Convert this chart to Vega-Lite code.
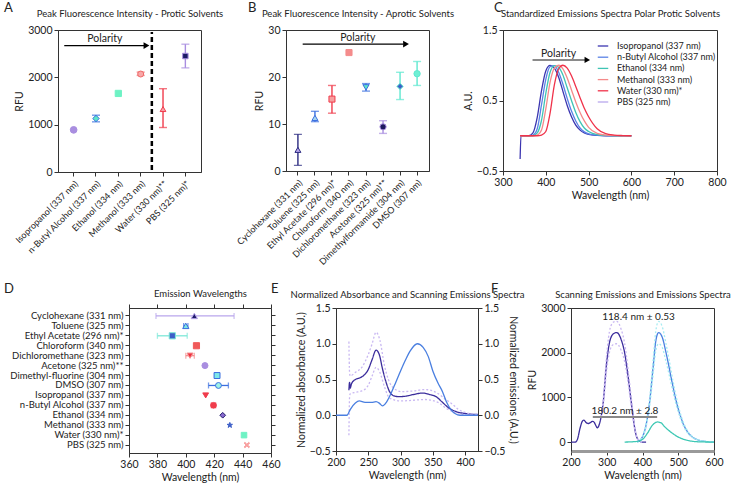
{
"$schema":"https://vega.github.io/schema/vega-lite/v6.json",
"background":"white",
"padding":{"left":3,"top":1,"right":5,"bottom":3},
"config":{
 "font":"Lato",
 "view":{"stroke":"#333","strokeWidth":1},
 "axis":{"grid":false,"labelFlush":false,"labelFontSize":10.5,"titleFontSize":10.5,"titleFontWeight":"normal","labelColor":"#222","titleColor":"#222","domainColor":"#333","tickColor":"#333","tickSize":4,"labelPadding":2,"titlePadding":3},
 "title":{"fontSize":13,"fontWeight":"normal","color":"#222","anchor":"start","frame":"group","offset":-7},
 "line":{"interpolate":"monotone","strokeWidth":1.3}
},
"datasets":{
 "A":[
  {"solvent":"Isopropanol (337 nm)","rfu":890,"lo":null,"hi":null},
  {"solvent":"n-Butyl Alcohol (337 nm)","rfu":1130,"lo":1060,"hi":1200},
  {"solvent":"Ethanol (334 nm)","rfu":1660,"lo":null,"hi":null},
  {"solvent":"Methanol (333 nm)","rfu":2070,"lo":2040,"hi":2110},
  {"solvent":"Water (330 nm)**","rfu":1330,"lo":940,"hi":1760},
  {"solvent":"PBS (325 nm)*","rfu":2450,"lo":2200,"hi":2700}
 ],
 "B":[
  {"solvent":"Cyclohexane (331 nm)","rfu":4.5,"lo":1.2,"hi":7.8},
  {"solvent":"Toluene (325 nm)","rfu":11.3,"lo":10.5,"hi":12.7},
  {"solvent":"Ethyl Acetate (296 nm)*","rfu":15.3,"lo":12.3,"hi":18.2},
  {"solvent":"Chloroform (340 nm)","rfu":25.2,"lo":null,"hi":null},
  {"solvent":"Dichloromethane (323 nm)","rfu":17.8,"lo":17.0,"hi":18.6},
  {"solvent":"Acetone (325 nm)**","rfu":9.4,"lo":8.0,"hi":10.7},
  {"solvent":"Dimethylformamide (304 nm)","rfu":18.0,"lo":15.2,"hi":21.0},
  {"solvent":"DMSO (307 nm)","rfu":20.7,"lo":18.2,"hi":23.3}
 ],
 "C":[
  {"w":340,"Isopropanol (337 nm)":-0.33,"n-Butyl Alcohol (337 nm)":0,"Ethanol (334 nm)":0,"Methanol (333 nm)":0,"Water (330 nm)*":0},
  {"w":342,"Isopropanol (337 nm)":0,"n-Butyl Alcohol (337 nm)":0,"Ethanol (334 nm)":0,"Methanol (333 nm)":0,"Water (330 nm)*":0},
  {"w":360,"Isopropanol (337 nm)":0,"n-Butyl Alcohol (337 nm)":0,"Ethanol (334 nm)":0,"Methanol (333 nm)":0,"Water (330 nm)*":0},
  {"w":370,"Isopropanol (337 nm)":0.04,"n-Butyl Alcohol (337 nm)":0.01,"Ethanol (334 nm)":0,"Methanol (333 nm)":0,"Water (330 nm)*":0},
  {"w":380,"Isopropanol (337 nm)":0.26,"n-Butyl Alcohol (337 nm)":0.1,"Ethanol (334 nm)":0.04,"Methanol (333 nm)":0.01,"Water (330 nm)*":0},
  {"w":390,"Isopropanol (337 nm)":0.64,"n-Butyl Alcohol (337 nm)":0.44,"Ethanol (334 nm)":0.22,"Methanol (333 nm)":0.08,"Water (330 nm)*":0.01},
  {"w":400,"Isopropanol (337 nm)":0.92,"n-Butyl Alcohol (337 nm)":0.8,"Ethanol (334 nm)":0.6,"Methanol (333 nm)":0.38,"Water (330 nm)*":0.06},
  {"w":410,"Isopropanol (337 nm)":0.998,"n-Butyl Alcohol (337 nm)":0.98,"Ethanol (334 nm)":0.9,"Methanol (333 nm)":0.76,"Water (330 nm)*":0.32},
  {"w":420,"Isopropanol (337 nm)":0.96,"n-Butyl Alcohol (337 nm)":0.995,"Ethanol (334 nm)":0.995,"Methanol (333 nm)":0.96,"Water (330 nm)*":0.72},
  {"w":430,"Isopropanol (337 nm)":0.83,"n-Butyl Alcohol (337 nm)":0.9,"Ethanol (334 nm)":0.97,"Methanol (333 nm)":1.0,"Water (330 nm)*":0.95},
  {"w":440,"Isopropanol (337 nm)":0.63,"n-Butyl Alcohol (337 nm)":0.73,"Ethanol (334 nm)":0.86,"Methanol (333 nm)":0.95,"Water (330 nm)*":1.0},
  {"w":450,"Isopropanol (337 nm)":0.43,"n-Butyl Alcohol (337 nm)":0.53,"Ethanol (334 nm)":0.68,"Methanol (333 nm)":0.82,"Water (330 nm)*":0.96},
  {"w":460,"Isopropanol (337 nm)":0.27,"n-Butyl Alcohol (337 nm)":0.35,"Ethanol (334 nm)":0.5,"Methanol (333 nm)":0.65,"Water (330 nm)*":0.85},
  {"w":470,"Isopropanol (337 nm)":0.15,"n-Butyl Alcohol (337 nm)":0.21,"Ethanol (334 nm)":0.33,"Methanol (333 nm)":0.48,"Water (330 nm)*":0.7},
  {"w":480,"Isopropanol (337 nm)":0.08,"n-Butyl Alcohol (337 nm)":0.11,"Ethanol (334 nm)":0.2,"Methanol (333 nm)":0.33,"Water (330 nm)*":0.54},
  {"w":490,"Isopropanol (337 nm)":0.04,"n-Butyl Alcohol (337 nm)":0.055,"Ethanol (334 nm)":0.11,"Methanol (333 nm)":0.21,"Water (330 nm)*":0.39},
  {"w":500,"Isopropanol (337 nm)":0.02,"n-Butyl Alcohol (337 nm)":0.027,"Ethanol (334 nm)":0.06,"Methanol (333 nm)":0.12,"Water (330 nm)*":0.27},
  {"w":520,"Isopropanol (337 nm)":0.005,"n-Butyl Alcohol (337 nm)":0.008,"Ethanol (334 nm)":0.015,"Methanol (333 nm)":0.035,"Water (330 nm)*":0.1},
  {"w":540,"Isopropanol (337 nm)":0,"n-Butyl Alcohol (337 nm)":0.002,"Ethanol (334 nm)":0.004,"Methanol (333 nm)":0.01,"Water (330 nm)*":0.03},
  {"w":560,"Isopropanol (337 nm)":0,"n-Butyl Alcohol (337 nm)":0,"Ethanol (334 nm)":0,"Methanol (333 nm)":0.002,"Water (330 nm)*":0.01},
  {"w":580,"Isopropanol (337 nm)":0,"n-Butyl Alcohol (337 nm)":0,"Ethanol (334 nm)":0,"Methanol (333 nm)":0,"Water (330 nm)*":0.003},
  {"w":600,"Isopropanol (337 nm)":0,"n-Butyl Alcohol (337 nm)":0,"Ethanol (334 nm)":0,"Methanol (333 nm)":0,"Water (330 nm)*":0}
 ],
 "D":[
  {"solvent":"Cyclohexane (331 nm)","nm":406,"lo":379,"hi":434},
  {"solvent":"Toluene (325 nm)","nm":400,"lo":398.5,"hi":401.5},
  {"solvent":"Ethyl Acetate (296 nm)*","nm":390.5,"lo":380,"hi":401},
  {"solvent":"Chloroform (340 nm)","nm":407.5,"lo":null,"hi":null},
  {"solvent":"Dichloromethane (323 nm)","nm":403,"lo":400,"hi":406},
  {"solvent":"Acetone (325 nm)**","nm":413.5,"lo":null,"hi":null},
  {"solvent":"Dimethyl-fluorine (304 nm)","nm":422,"lo":420.5,"hi":423.5},
  {"solvent":"DMSO (307 nm)","nm":423,"lo":416,"hi":430},
  {"solvent":"Isopropanol (337 nm)","nm":414,"lo":null,"hi":null},
  {"solvent":"n-Butyl Alcohol (337 nm)","nm":419.5,"lo":418,"hi":421},
  {"solvent":"Ethanol (334 nm)","nm":426,"lo":null,"hi":null},
  {"solvent":"Methanol (333 nm)","nm":431,"lo":null,"hi":null},
  {"solvent":"Water (330 nm)*","nm":441,"lo":null,"hi":null},
  {"solvent":"PBS (325 nm)","nm":443,"lo":null,"hi":null}
 ],
 "E":[
  {"s":"abs","w":220,"v":0.35},{"s":"abs","w":221,"v":0.46},{"s":"abs","w":222,"v":0.38},{"s":"abs","w":224,"v":0.44},{"s":"abs","w":230,"v":0.5},{"s":"abs","w":236,"v":0.52},{"s":"abs","w":242,"v":0.55},{"s":"abs","w":250,"v":0.64},{"s":"abs","w":256,"v":0.78},{"s":"abs","w":262,"v":0.91},{"s":"abs","w":267,"v":0.85},{"s":"abs","w":272,"v":0.65},{"s":"abs","w":278,"v":0.45},{"s":"abs","w":283,"v":0.33},{"s":"abs","w":290,"v":0.27},{"s":"abs","w":298,"v":0.26},{"s":"abs","w":310,"v":0.27},{"s":"abs","w":320,"v":0.29},{"s":"abs","w":334,"v":0.31},{"s":"abs","w":345,"v":0.29},{"s":"abs","w":355,"v":0.26},{"s":"abs","w":365,"v":0.18},{"s":"abs","w":375,"v":0.1},{"s":"abs","w":381,"v":0.07},{"s":"abs","w":390,"v":0.04},{"s":"abs","w":400,"v":0.025},{"s":"abs","w":410,"v":0.015},{"s":"abs","w":420,"v":0.01},
  {"s":"abs_hi","w":220,"v":1.03},{"s":"abs_hi","w":221,"v":0.6},{"s":"abs_hi","w":222,"v":0.55},{"s":"abs_hi","w":230,"v":0.6},{"s":"abs_hi","w":240,"v":0.67},{"s":"abs_hi","w":250,"v":0.85},{"s":"abs_hi","w":256,"v":1.0},{"s":"abs_hi","w":262,"v":1.16},{"s":"abs_hi","w":268,"v":1.05},{"s":"abs_hi","w":275,"v":0.7},{"s":"abs_hi","w":287,"v":0.4},{"s":"abs_hi","w":302,"v":0.33},{"s":"abs_hi","w":320,"v":0.34},{"s":"abs_hi","w":338,"v":0.36},{"s":"abs_hi","w":355,"v":0.32},{"s":"abs_hi","w":370,"v":0.22},{"s":"abs_hi","w":381,"v":0.15},{"s":"abs_hi","w":390,"v":0.08},{"s":"abs_hi","w":400,"v":0.04},{"s":"abs_hi","w":410,"v":0.02},{"s":"abs_hi","w":420,"v":0.01},
  {"s":"abs_lo","w":220,"v":-0.28},{"s":"abs_lo","w":221,"v":0.25},{"s":"abs_lo","w":222,"v":0.3},{"s":"abs_lo","w":230,"v":0.32},{"s":"abs_lo","w":240,"v":0.34},{"s":"abs_lo","w":250,"v":0.42},{"s":"abs_lo","w":256,"v":0.55},{"s":"abs_lo","w":262,"v":0.67},{"s":"abs_lo","w":268,"v":0.6},{"s":"abs_lo","w":275,"v":0.4},{"s":"abs_lo","w":283,"v":0.24},{"s":"abs_lo","w":300,"v":0.2},{"s":"abs_lo","w":320,"v":0.21},{"s":"abs_lo","w":338,"v":0.22},{"s":"abs_lo","w":358,"v":0.18},{"s":"abs_lo","w":370,"v":0.1},{"s":"abs_lo","w":381,"v":0.05},{"s":"abs_lo","w":390,"v":0.02},{"s":"abs_lo","w":400,"v":0.01},{"s":"abs_lo","w":420,"v":0}
 ],
 "Eem":[
  {"w":200,"v":0},{"w":217,"v":0},{"w":222,"v":0.08},{"w":230,"v":0.17},{"w":236,"v":0.2},{"w":245,"v":0.18},{"w":255,"v":0.18},{"w":262,"v":0.19},{"w":267,"v":0.17},{"w":272,"v":0.13},{"w":278,"v":0.18},{"w":285,"v":0.3},{"w":293,"v":0.47},{"w":300,"v":0.62},{"w":308,"v":0.78},{"w":315,"v":0.9},{"w":326,"v":1.0},{"w":335,"v":0.95},{"w":343,"v":0.82},{"w":350,"v":0.62},{"w":358,"v":0.45},{"w":365,"v":0.33},{"w":371,"v":0.19},{"w":378,"v":0.08},{"w":385,"v":0.02},{"w":392,"v":0},{"w":420,"v":0}
 ],
 "F":[
  {"s":"scan","w":200,"v":0},{"s":"scan","w":212,"v":0},{"s":"scan","w":218,"v":60},{"s":"scan","w":225,"v":300},{"s":"scan","w":232,"v":470},{"s":"scan","w":236,"v":490},{"s":"scan","w":242,"v":440},{"s":"scan","w":248,"v":415},{"s":"scan","w":255,"v":440},{"s":"scan","w":260,"v":465},{"s":"scan","w":265,"v":440},{"s":"scan","w":270,"v":360},{"s":"scan","w":274,"v":320},{"s":"scan","w":280,"v":420},{"s":"scan","w":285,"v":600},{"s":"scan","w":290,"v":880},{"s":"scan","w":300,"v":1800},{"s":"scan","w":310,"v":2300},{"s":"scan","w":320,"v":2430},{"s":"scan","w":328,"v":2450},{"s":"scan","w":340,"v":2300},{"s":"scan","w":350,"v":2000},{"s":"scan","w":360,"v":1450},{"s":"scan","w":370,"v":800},{"s":"scan","w":380,"v":230},{"s":"scan","w":390,"v":30},{"s":"scan","w":400,"v":0},{"s":"scan","w":410,"v":0},
  {"s":"scan_hi","w":285,"v":640},{"s":"scan_hi","w":290,"v":950},{"s":"scan_hi","w":300,"v":1980},{"s":"scan_hi","w":310,"v":2560},{"s":"scan_hi","w":320,"v":2690},{"s":"scan_hi","w":328,"v":2700},{"s":"scan_hi","w":340,"v":2530},{"s":"scan_hi","w":350,"v":2210},{"s":"scan_hi","w":360,"v":1600},{"s":"scan_hi","w":370,"v":890},{"s":"scan_hi","w":380,"v":260},{"s":"scan_hi","w":390,"v":35},{"s":"scan_hi","w":400,"v":0},
  {"s":"scan_lo","w":285,"v":560},{"s":"scan_lo","w":290,"v":810},{"s":"scan_lo","w":300,"v":1620},{"s":"scan_lo","w":310,"v":2080},{"s":"scan_lo","w":320,"v":2190},{"s":"scan_lo","w":328,"v":2200},{"s":"scan_lo","w":340,"v":2060},{"s":"scan_lo","w":350,"v":1800},{"s":"scan_lo","w":360,"v":1300},{"s":"scan_lo","w":370,"v":720},{"s":"scan_lo","w":380,"v":210},{"s":"scan_lo","w":390,"v":25},{"s":"scan_lo","w":400,"v":0},
  {"s":"em","w":385,"v":0},{"s":"em","w":400,"v":120},{"s":"em","w":410,"v":380},{"s":"em","w":420,"v":900},{"s":"em","w":430,"v":1700},{"s":"em","w":437,"v":2250},{"s":"em","w":445,"v":2450},{"s":"em","w":455,"v":2350},{"s":"em","w":465,"v":2030},{"s":"em","w":475,"v":1650},{"s":"em","w":485,"v":1250},{"s":"em","w":495,"v":900},{"s":"em","w":505,"v":610},{"s":"em","w":515,"v":390},{"s":"em","w":525,"v":240},{"s":"em","w":540,"v":110},{"s":"em","w":555,"v":50},{"s":"em","w":570,"v":20},{"s":"em","w":585,"v":8},{"s":"em","w":600,"v":3},
  {"s":"em_hi","w":385,"v":0},{"s":"em_hi","w":400,"v":130},{"s":"em_hi","w":410,"v":420},{"s":"em_hi","w":420,"v":990},{"s":"em_hi","w":430,"v":1870},{"s":"em_hi","w":437,"v":2470},{"s":"em_hi","w":445,"v":2700},{"s":"em_hi","w":455,"v":2590},{"s":"em_hi","w":465,"v":2230},{"s":"em_hi","w":475,"v":1820},{"s":"em_hi","w":485,"v":1380},{"s":"em_hi","w":495,"v":990},{"s":"em_hi","w":505,"v":670},{"s":"em_hi","w":515,"v":430},{"s":"em_hi","w":525,"v":265},{"s":"em_hi","w":540,"v":120},{"s":"em_hi","w":555,"v":55},{"s":"em_hi","w":570,"v":22},{"s":"em_hi","w":600,"v":3},
  {"s":"em_lo","w":385,"v":0},{"s":"em_lo","w":400,"v":110},{"s":"em_lo","w":410,"v":340},{"s":"em_lo","w":420,"v":810},{"s":"em_lo","w":430,"v":1530},{"s":"em_lo","w":437,"v":2030},{"s":"em_lo","w":445,"v":2200},{"s":"em_lo","w":455,"v":2120},{"s":"em_lo","w":465,"v":1830},{"s":"em_lo","w":475,"v":1490},{"s":"em_lo","w":485,"v":1130},{"s":"em_lo","w":495,"v":810},{"s":"em_lo","w":505,"v":550},{"s":"em_lo","w":515,"v":350},{"s":"em_lo","w":525,"v":215},{"s":"em_lo","w":540,"v":100},{"s":"em_lo","w":555,"v":45},{"s":"em_lo","w":570,"v":18},{"s":"em_lo","w":600,"v":3},
  {"s":"em2","w":350,"v":0},{"s":"em2","w":385,"v":15},{"s":"em2","w":400,"v":60},{"s":"em2","w":414,"v":200},{"s":"em2","w":428,"v":380},{"s":"em2","w":442,"v":450},{"s":"em2","w":452,"v":430},{"s":"em2","w":461,"v":350},{"s":"em2","w":472,"v":270},{"s":"em2","w":484,"v":195},{"s":"em2","w":496,"v":130},{"s":"em2","w":508,"v":83},{"s":"em2","w":525,"v":40},{"s":"em2","w":545,"v":12},{"s":"em2","w":570,"v":3},{"s":"em2","w":600,"v":0}
 ]
},
"spacing":15,
"bounds":"full",
"resolve":{"scale":{"color":"independent","fill":"independent","stroke":"independent","shape":"independent","size":"independent","strokeDash":"independent"},"legend":{"color":"independent"}},
"vconcat":[
 {"bounds":"flush","spacing":85,
  "resolve":{"scale":{"color":"independent","fill":"independent","stroke":"independent","shape":"independent","size":"independent","strokeDash":"independent"},"legend":{"color":"independent"}},
  "hconcat":[
  {
   "width":143,"height":142,
   "title":{"text":"A","dx":-54},
   "data":{"name":"A"},
   "resolve":{"axis":{"x":"independent"}},
   "layer":[
    {"data":{"values":[{"solvent":"Methanol (333 nm)"}]},"mark":{"type":"rule","color":"#000","strokeWidth":2.5,"strokeDash":[5,3]},
     "encoding":{"x":{"field":"solvent","type":"nominal","sort":null,"title":"Peak Fluorescence Intensity - Protic Solvents","bandPosition":1,"scale":{"domain":["Isopropanol (337 nm)","n-Butyl Alcohol (337 nm)","Ethanol (334 nm)","Methanol (333 nm)","Water (330 nm)**","PBS (325 nm)*"],"paddingInner":0,"paddingOuter":0.2},"axis":{"orient":"top","labels":false,"ticks":false,"domain":false,"titleFontSize":9.5,"titlePadding":12}},
      "y":{"datum":40,"type":"quantitative","title":"RFU","scale":{"domain":[0,3000],"nice":false},"axis":{"values":[0,1000,2000,3000],"format":"d"}},"y2":{"datum":2960}}},
    {"data":{"values":[{"solvent":"Isopropanol (337 nm)","to":"Methanol (333 nm)"}]},"mark":{"type":"rule","color":"#000","strokeWidth":1.2},
     "encoding":{"x":{"field":"solvent","type":"nominal","sort":null,"axis":null,"bandPosition":0.08},"x2":{"field":"to","bandPosition":0.66},
      "y":{"datum":2670,"type":"quantitative","title":"RFU"}}},
    {"data":{"values":[{"solvent":"Methanol (333 nm)"}]},"mark":{"type":"point","shape":"triangle-right","filled":true,"color":"#000","size":45,"opacity":1},
     "encoding":{"x":{"field":"solvent","type":"nominal","sort":null,"axis":null,"bandPosition":0.76},"y":{"datum":2670,"type":"quantitative","title":"RFU"}}},
    {"data":{"values":[{"solvent":"n-Butyl Alcohol (337 nm)","label":"Polarity"}]},"mark":{"type":"text","fontSize":10.5,"color":"#222"},
     "encoding":{"x":{"field":"solvent","type":"nominal","sort":null,"axis":null,"bandPosition":0.9},"y":{"datum":2810,"type":"quantitative","title":"RFU"},"text":{"field":"label"}}},
    {"mark":{"type":"rule","strokeWidth":1.4},
     "encoding":{"x":{"field":"solvent","type":"nominal","sort":null,"axis":null},"y":{"field":"lo","type":"quantitative","title":"RFU"},"y2":{"field":"hi"},
      "stroke":{"field":"solvent","type":"nominal","legend":null,"scale":{"domain":["Isopropanol (337 nm)","n-Butyl Alcohol (337 nm)","Ethanol (334 nm)","Methanol (333 nm)","Water (330 nm)**","PBS (325 nm)*"],"range":["#a98ee0","#3b6fe0","#6ef2c4","#f06a6a","#f03c4c","#a98ee0"]}}}},
    {"transform":[{"fold":["lo","hi"],"as":["k","v"]}],"mark":{"type":"tick","size":8,"thickness":1.4},
     "encoding":{"x":{"field":"solvent","type":"nominal","sort":null,"axis":null},"y":{"field":"v","type":"quantitative","title":"RFU"},
      "fill":{"field":"solvent","type":"nominal","legend":null,"scale":{"domain":["Isopropanol (337 nm)","n-Butyl Alcohol (337 nm)","Ethanol (334 nm)","Methanol (333 nm)","Water (330 nm)**","PBS (325 nm)*"],"range":["#a98ee0","#3b6fe0","#6ef2c4","#f06a6a","#f03c4c","#a98ee0"]}}}},
    {"mark":{"type":"point","filled":true,"opacity":1,"strokeWidth":1},
     "encoding":{"x":{"field":"solvent","type":"nominal","sort":null,"title":null,"axis":{"labelAngle":-45,"labelFontSize":9,"labelPadding":3}},"y":{"field":"rfu","type":"quantitative","title":"RFU"},
      "color":{"field":"solvent","type":"nominal","legend":null,"scale":{"domain":["Isopropanol (337 nm)","n-Butyl Alcohol (337 nm)","Ethanol (334 nm)","Methanol (333 nm)","Water (330 nm)**","PBS (325 nm)*"],"range":["#a98ee0","#5ee8c8","#6ef2c4","#f8a8a8","#f8a0a8","#1b1a66"]}},
      "stroke":{"field":"solvent","type":"nominal","legend":null},
      "shape":{"field":"solvent","type":"nominal","legend":null,"scale":{"domain":["Isopropanol (337 nm)","n-Butyl Alcohol (337 nm)","Ethanol (334 nm)","Methanol (333 nm)","Water (330 nm)**","PBS (325 nm)*"],"range":["circle","diamond","square","circle","triangle-up","square"]}},
      "size":{"field":"solvent","type":"nominal","legend":null,"scale":{"domain":["Isopropanol (337 nm)","n-Butyl Alcohol (337 nm)","Ethanol (334 nm)","Methanol (333 nm)","Water (330 nm)**","PBS (325 nm)*"],"range":[45,30,50,10,20,60]}}}}
   ]
  },
  {"bounds":"flush","spacing":74,
   "resolve":{"scale":{"color":"independent","fill":"independent","stroke":"independent","shape":"independent","size":"independent","strokeDash":"independent"},"legend":{"color":"independent"}},
   "hconcat":[
   {
    "width":143,"height":141,
    "title":{"text":"B","dx":-38},
    "data":{"name":"B"},
    "resolve":{"axis":{"x":"independent"}},
    "layer":[
     {"data":{"values":[{"solvent":"Cyclohexane (331 nm)","to":"Dimethylformamide (304 nm)"}]},"mark":{"type":"rule","color":"#000","strokeWidth":1.2},
      "encoding":{"x":{"field":"solvent","type":"nominal","sort":null,"title":"Peak Fluorescence Intensity - Aprotic Solvents","bandPosition":0.78,"scale":{"domain":["Cyclohexane (331 nm)","Toluene (325 nm)","Ethyl Acetate (296 nm)*","Chloroform (340 nm)","Dichloromethane (323 nm)","Acetone (325 nm)**","Dimethylformamide (304 nm)","DMSO (307 nm)"],"paddingInner":0,"paddingOuter":0.2},"axis":{"orient":"top","labels":false,"ticks":false,"domain":false,"titleFontSize":9.5,"titlePadding":12}},
       "x2":{"field":"to","bandPosition":0.7},
       "y":{"datum":27,"type":"quantitative","title":"RFU","scale":{"domain":[0,30],"nice":false},"axis":{"values":[0,10,20,30]}}}},
     {"data":{"values":[{"solvent":"Dimethylformamide (304 nm)"}]},"mark":{"type":"point","shape":"triangle-right","filled":true,"color":"#000","size":45,"opacity":1},
      "encoding":{"x":{"field":"solvent","type":"nominal","sort":null,"axis":null,"bandPosition":0.85},"y":{"datum":27,"type":"quantitative","title":"RFU"}}},
     {"data":{"values":[{"solvent":"Dichloromethane (323 nm)","label":"Polarity"}]},"mark":{"type":"text","fontSize":10.5,"color":"#222"},
      "encoding":{"x":{"field":"solvent","type":"nominal","sort":null,"axis":null,"bandPosition":0.02},"y":{"datum":28.3,"type":"quantitative","title":"RFU"},"text":{"field":"label"}}},
     {"mark":{"type":"rule","strokeWidth":1.4},
      "encoding":{"x":{"field":"solvent","type":"nominal","sort":null,"axis":null},"y":{"field":"lo","type":"quantitative","title":"RFU"},"y2":{"field":"hi"},
       "stroke":{"field":"solvent","type":"nominal","legend":null,"scale":{"domain":["Cyclohexane (331 nm)","Toluene (325 nm)","Ethyl Acetate (296 nm)*","Chloroform (340 nm)","Dichloromethane (323 nm)","Acetone (325 nm)**","Dimethylformamide (304 nm)","DMSO (307 nm)"],"range":["#2a2a80","#3b6fe0","#f03c4c","#f48c8c","#3b6fe0","#a98ee0","#5ee8d0","#5ee8d0"]}}}},
     {"transform":[{"fold":["lo","hi"],"as":["k","v"]}],"mark":{"type":"tick","size":8,"thickness":1.4},
      "encoding":{"x":{"field":"solvent","type":"nominal","sort":null,"axis":null},"y":{"field":"v","type":"quantitative","title":"RFU"},
       "fill":{"field":"solvent","type":"nominal","legend":null,"scale":{"domain":["Cyclohexane (331 nm)","Toluene (325 nm)","Ethyl Acetate (296 nm)*","Chloroform (340 nm)","Dichloromethane (323 nm)","Acetone (325 nm)**","Dimethylformamide (304 nm)","DMSO (307 nm)"],"range":["#2a2a80","#3b6fe0","#f03c4c","#f48c8c","#3b6fe0","#a98ee0","#5ee8d0","#5ee8d0"]}}}},
     {"mark":{"type":"point","filled":true,"opacity":1,"strokeWidth":1},
      "encoding":{"x":{"field":"solvent","type":"nominal","sort":null,"title":null,"axis":{"labelAngle":-45,"labelFontSize":9,"labelPadding":3}},"y":{"field":"rfu","type":"quantitative","title":"RFU"},
       "color":{"field":"solvent","type":"nominal","legend":null,"scale":{"domain":["Cyclohexane (331 nm)","Toluene (325 nm)","Ethyl Acetate (296 nm)*","Chloroform (340 nm)","Dichloromethane (323 nm)","Acetone (325 nm)**","Dimethylformamide (304 nm)","DMSO (307 nm)"],"range":["#b9a6ec","#a8d8f0","#f6a0a0","#f48c8c","#5ee8c8","#1e1a5e","#3d5fc8","#6ef0d4"]}},
       "stroke":{"field":"solvent","type":"nominal","legend":null},
       "shape":{"field":"solvent","type":"nominal","legend":null,"scale":{"domain":["Cyclohexane (331 nm)","Toluene (325 nm)","Ethyl Acetate (296 nm)*","Chloroform (340 nm)","Dichloromethane (323 nm)","Acetone (325 nm)**","Dimethylformamide (304 nm)","DMSO (307 nm)"],"range":["triangle-up","triangle-up","square","square","triangle-down","circle","diamond","circle"]}},
       "size":{"field":"solvent","type":"nominal","legend":null,"scale":{"domain":["Cyclohexane (331 nm)","Toluene (325 nm)","Ethyl Acetate (296 nm)*","Chloroform (340 nm)","Dichloromethane (323 nm)","Acetone (325 nm)**","Dimethylformamide (304 nm)","DMSO (307 nm)"],"range":[35,40,70,50,40,50,25,60]}}}}
    ]
   },
   {
    "width":214,"height":141,
    "title":{"text":"C","dx":-9},
    "resolve":{"axis":{"x":"independent"}},
    "layer":[
     {"mark":{"type":"rule","color":"#000","strokeWidth":1.2,"strokeDash":[2,3]},
      "encoding":{"y":{"datum":0,"type":"quantitative","title":"A.U.","scale":{"domain":[-0.5,1.5],"nice":false},"axis":{"values":[-0.5,0,0.5,1,1.5],"format":".1f"}}}},
     {"data":{"name":"C"},"transform":[{"fold":["Isopropanol (337 nm)","n-Butyl Alcohol (337 nm)","Ethanol (334 nm)","Methanol (333 nm)","Water (330 nm)*"],"as":["s","v"]}],
      "mark":{"type":"line","strokeWidth":1.3},
      "encoding":{"x":{"field":"w","type":"quantitative","title":"Wavelength (nm)","scale":{"domain":[300,800],"nice":false},"axis":{"values":[300,400,500,600,700,800]}},
       "y":{"field":"v","type":"quantitative","title":"A.U."},
       "color":{"field":"s","type":"nominal","scale":{"domain":["Isopropanol (337 nm)","n-Butyl Alcohol (337 nm)","Ethanol (334 nm)","Methanol (333 nm)","Water (330 nm)*","PBS (325 nm)"],"range":["#3b35b0","#5a82e6","#3fc4b4","#f48a8a","#f0324a","#b8a8ec"]},
        "legend":{"title":null,"orient":"none","legendX":94,"legendY":10,"symbolType":"stroke","symbolSize":110,"symbolStrokeWidth":2,"labelFontSize":9,"rowPadding":0.2,"labelOffset":8,"labelColor":"#222"}}}},
     {"data":{"values":[{"a":369,"b":494,"y":1.075}]},"mark":{"type":"rule","color":"#8a8a8a","strokeWidth":2},
      "encoding":{"x":{"field":"a","type":"quantitative","title":"Standardized Emissions Spectra Polar Protic Solvents","axis":{"orient":"top","labels":false,"ticks":false,"domain":false,"titleFontSize":9.5,"titlePadding":12}},"x2":{"field":"b"},"y":{"field":"y","type":"quantitative","title":"A.U."}}},
     {"data":{"values":[{"a":497,"y":1.075}]},"mark":{"type":"point","shape":"triangle-right","filled":true,"color":"#000","size":40,"opacity":1},
      "encoding":{"x":{"field":"a","type":"quantitative","axis":null},"y":{"field":"y","type":"quantitative","title":"A.U."}}},
     {"data":{"values":[{"a":430,"y":1.16,"label":"Polarity"}]},"mark":{"type":"text","fontSize":10.5,"color":"#222"},
      "encoding":{"x":{"field":"a","type":"quantitative","axis":null},"y":{"field":"y","type":"quantitative","title":"A.U."},"text":{"field":"label"}}}
    ]
   }
  ]}
 ]},
 {"bounds":"flush","spacing":70,
  "resolve":{"scale":{"color":"independent","fill":"independent","stroke":"independent","shape":"independent","size":"independent","strokeDash":"independent"},"legend":{"color":"independent"}},
  "hconcat":[
  {"width":1,"height":1,"view":{"stroke":null},"data":{"values":[{"k":0}]},"mark":{"type":"text","text":""}},
  {"bounds":"flush","spacing":65,
   "resolve":{"scale":{"color":"independent","fill":"independent","stroke":"independent","shape":"independent","size":"independent","strokeDash":"independent"},"legend":{"color":"independent"}},
   "hconcat":[
   {
    "width":142,"height":145,
    "title":{"text":"D","dx":-125},
    "data":{"name":"D"},
    "resolve":{"axis":{"x":"independent","y":"independent"}},
    "layer":[
     {"mark":{"type":"rule","strokeWidth":1.3},
      "encoding":{"y":{"field":"solvent","type":"nominal","sort":null,"title":null,"scale":{"domain":["Cyclohexane (331 nm)","Toluene (325 nm)","Ethyl Acetate (296 nm)*","Chloroform (340 nm)","Dichloromethane (323 nm)","Acetone (325 nm)**","Dimethyl-fluorine (304 nm)","DMSO (307 nm)","Isopropanol (337 nm)","n-Butyl Alcohol (337 nm)","Ethanol (334 nm)","Methanol (333 nm)","Water (330 nm)*","PBS (325 nm)"],"paddingInner":0,"paddingOuter":0.3},"axis":{"orient":"right","labels":false,"domain":false,"title":null}},
       "x":{"field":"lo","type":"quantitative","title":"Emission Wavelengths","scale":{"domain":[360,460],"nice":false},"axis":{"orient":"top","labels":false,"domain":false,"values":[360,380,400,420,440,460],"titleFontSize":9.5,"titlePadding":5}},"x2":{"field":"hi"},
       "stroke":{"field":"solvent","type":"nominal","legend":null,"scale":{"domain":["Cyclohexane (331 nm)","Toluene (325 nm)","Ethyl Acetate (296 nm)*","Chloroform (340 nm)","Dichloromethane (323 nm)","Acetone (325 nm)**","Dimethyl-fluorine (304 nm)","DMSO (307 nm)","Isopropanol (337 nm)","n-Butyl Alcohol (337 nm)","Ethanol (334 nm)","Methanol (333 nm)","Water (330 nm)*","PBS (325 nm)"],"range":["#b9a6ec","#3b6fe0","#7ee8d8","#f05a5a","#f49090","#a98ee0","#3b6fe0","#3b6fe0","#f03c4c","#f03c4c","#1e1a6a","#3d5fc8","#6ef2c4","#f8a0a0"]}}}},
     {"transform":[{"fold":["lo","hi"],"as":["k","v"]}],"mark":{"type":"tick","size":6,"thickness":1.3},
      "encoding":{"y":{"field":"solvent","type":"nominal","sort":null,"title":null,"axis":{"labelFontSize":9.5}},
       "x":{"field":"v","type":"quantitative","title":"Wavelength (nm)","axis":{"values":[360,380,400,420,440,460]}},
       "fill":{"field":"solvent","type":"nominal","legend":null,"scale":{"domain":["Cyclohexane (331 nm)","Toluene (325 nm)","Ethyl Acetate (296 nm)*","Chloroform (340 nm)","Dichloromethane (323 nm)","Acetone (325 nm)**","Dimethyl-fluorine (304 nm)","DMSO (307 nm)","Isopropanol (337 nm)","n-Butyl Alcohol (337 nm)","Ethanol (334 nm)","Methanol (333 nm)","Water (330 nm)*","PBS (325 nm)"],"range":["#b9a6ec","#3b6fe0","#7ee8d8","#f05a5a","#f49090","#a98ee0","#3b6fe0","#3b6fe0","#f03c4c","#f03c4c","#1e1a6a","#3d5fc8","#6ef2c4","#f8a0a0"]}}}},
     {"mark":{"type":"point","filled":true,"opacity":1,"strokeWidth":1},
      "encoding":{"y":{"field":"solvent","type":"nominal","sort":null,"axis":null},"x":{"field":"nm","type":"quantitative","axis":null},
       "color":{"field":"solvent","type":"nominal","legend":null,"scale":{"domain":["Cyclohexane (331 nm)","Toluene (325 nm)","Ethyl Acetate (296 nm)*","Chloroform (340 nm)","Dichloromethane (323 nm)","Acetone (325 nm)**","Dimethyl-fluorine (304 nm)","DMSO (307 nm)","Isopropanol (337 nm)","n-Butyl Alcohol (337 nm)","Ethanol (334 nm)","Methanol (333 nm)","Water (330 nm)*","PBS (325 nm)"],"range":["#1e1a6a","#7ee8e0","#3d5fc8","#f05a5a","#f03040","#a98ee0","#7ee8e8","#9ef2e6","#f03c4c","#f03c4c","#8a6ad0","#3d5fc8","#6ef2c4","#f8a0a0"]}},
       "stroke":{"field":"solvent","type":"nominal","legend":null},
       "shape":{"field":"solvent","type":"nominal","legend":null,"scale":{"domain":["Cyclohexane (331 nm)","Toluene (325 nm)","Ethyl Acetate (296 nm)*","Chloroform (340 nm)","Dichloromethane (323 nm)","Acetone (325 nm)**","Dimethyl-fluorine (304 nm)","DMSO (307 nm)","Isopropanol (337 nm)","n-Butyl Alcohol (337 nm)","Ethanol (334 nm)","Methanol (333 nm)","Water (330 nm)*","PBS (325 nm)"],"range":["triangle-up","triangle-up","square","square","triangle-down","circle","square","circle","triangle-down","circle","diamond","M0,-1L0.24,-0.33L0.95,-0.31L0.38,0.12L0.59,0.81L0,0.4L-0.59,0.81L-0.38,0.12L-0.95,-0.31L-0.24,-0.33Z","square","M-1,-0.7L-0.7,-1L0,-0.3L0.7,-1L1,-0.7L0.3,0L1,0.7L0.7,1L0,0.3L-0.7,1L-1,0.7L-0.3,0Z"]}},
       "size":{"field":"solvent","type":"nominal","legend":null,"scale":{"domain":["Cyclohexane (331 nm)","Toluene (325 nm)","Ethyl Acetate (296 nm)*","Chloroform (340 nm)","Dichloromethane (323 nm)","Acetone (325 nm)**","Dimethyl-fluorine (304 nm)","DMSO (307 nm)","Isopropanol (337 nm)","n-Butyl Alcohol (337 nm)","Ethanol (334 nm)","Methanol (333 nm)","Water (330 nm)*","PBS (325 nm)"],"range":[40,30,45,45,45,45,25,55,55,15,40,40,45,45]}}}}
    ]
   },
   {"bounds":"flush","spacing":93,
    "resolve":{"scale":{"color":"independent","fill":"independent","stroke":"independent","shape":"independent","size":"independent","strokeDash":"independent"},"legend":{"color":"independent"}},
    "hconcat":[
    {
     "width":142,"height":143,
     "title":{"text":"E","dx":-65},
     "resolve":{"scale":{"y":"independent"},"axis":{"y":"independent","x":"independent"}},
     "layer":[
      {"data":{"name":"E"},"mark":{"type":"line","strokeWidth":1.3},
       "encoding":{"x":{"field":"w","type":"quantitative","title":"Wavelength (nm)","scale":{"domain":[200,420],"nice":false},"axis":{"values":[200,250,300,350,400]}},
        "y":{"field":"v","type":"quantitative","title":"Normalized absorbance (A.U.)","scale":{"domain":[-0.5,1.5],"nice":false},"axis":{"values":[-0.5,0,0.5,1,1.5],"format":".1f"}},
        "color":{"field":"s","type":"nominal","legend":null,"scale":{"domain":["abs_hi","abs_lo","abs"],"range":["#c9b8f2","#c9b8f2","#3b2d9c"]}},
        "strokeDash":{"field":"s","type":"nominal","legend":null,"scale":{"domain":["abs_hi","abs_lo","abs"],"range":[[2,2],[2,2],[1,0]]}}}},
      {"data":{"name":"Eem"},"mark":{"type":"line","strokeWidth":1.3,"color":"#4a7fe0"},
       "encoding":{"x":{"field":"w","type":"quantitative","title":"Normalized Absorbance and Scanning Emissions Spectra","axis":{"orient":"top","labels":false,"ticks":false,"domain":false,"titleFontSize":9.5,"titlePadding":9}},
        "y":{"field":"v","type":"quantitative","title":"Normalized emissions (A.U.)","scale":{"domain":[-0.5,1.5],"nice":false},"axis":{"orient":"right","values":[-0.5,0,0.5,1,1.5],"format":".1f"}}}},
      {"mark":{"type":"rule","color":"#000","strokeWidth":1.5},
       "encoding":{"y":{"datum":0,"type":"quantitative","scale":{"domain":[-0.5,1.5],"nice":false},"axis":null}}}
     ]
    },
    {
     "width":143,"height":143,
     "title":{"text":"F","dx":-80},
     "resolve":{"axis":{"x":"independent"}},
     "layer":[
      {"mark":{"type":"rule","color":"#000","strokeWidth":1.2,"strokeDash":[2,3]},
       "encoding":{"y":{"datum":0,"type":"quantitative","title":"RFU","scale":{"domain":[-200,3000],"nice":false},"axis":{"values":[0,1000,2000,3000],"format":"d"}}}},
      {"data":{"name":"F"},"mark":{"type":"line","strokeWidth":1.3},
       "encoding":{"x":{"field":"w","type":"quantitative","title":"Wavelength (nm)","scale":{"domain":[200,600],"nice":false},"axis":{"values":[200,300,400,500,600],"domainColor":"#9a9a9a","domainWidth":3}},
        "y":{"field":"v","type":"quantitative","title":"RFU"},
        "color":{"field":"s","type":"nominal","legend":null,"scale":{"domain":["scan_hi","scan_lo","em_hi","em_lo","em2","scan","em"],"range":["#c9b8f2","#c9b8f2","#a6ecf2","#a6ecf2","#3ec8b4","#3b2d9c","#4a7fe0"]}},
        "strokeDash":{"field":"s","type":"nominal","legend":null,"scale":{"domain":["scan_hi","scan_lo","em_hi","em_lo","em2","scan","em"],"range":[[2,2],[2,2],[2,2],[2,2],[1,0],[1,0],[1,0]]}}}},
      {"data":{"values":[{"a":261,"b":441,"y":560}]},"mark":{"type":"rule","color":"#888","strokeWidth":2},
       "encoding":{"x":{"field":"a","type":"quantitative","title":"Scanning Emissions and Emissions Spectra","axis":{"orient":"top","labels":false,"ticks":false,"domain":false,"titleFontSize":9.5,"titlePadding":9}},"x2":{"field":"b"},"y":{"field":"y","type":"quantitative","title":"RFU"}}},
      {"data":{"values":[{"a":389,"y":2790,"label":"118.4 nm ± 0.53"},{"a":351,"y":700,"label":"180.2 nm ± 2.8"}]},"mark":{"type":"text","fontSize":10,"color":"#222"},
       "encoding":{"x":{"field":"a","type":"quantitative","axis":null},"y":{"field":"y","type":"quantitative","title":"RFU"},"text":{"field":"label"}}}
     ]
    }
   ]}
  ]}
 ]}
]
}
